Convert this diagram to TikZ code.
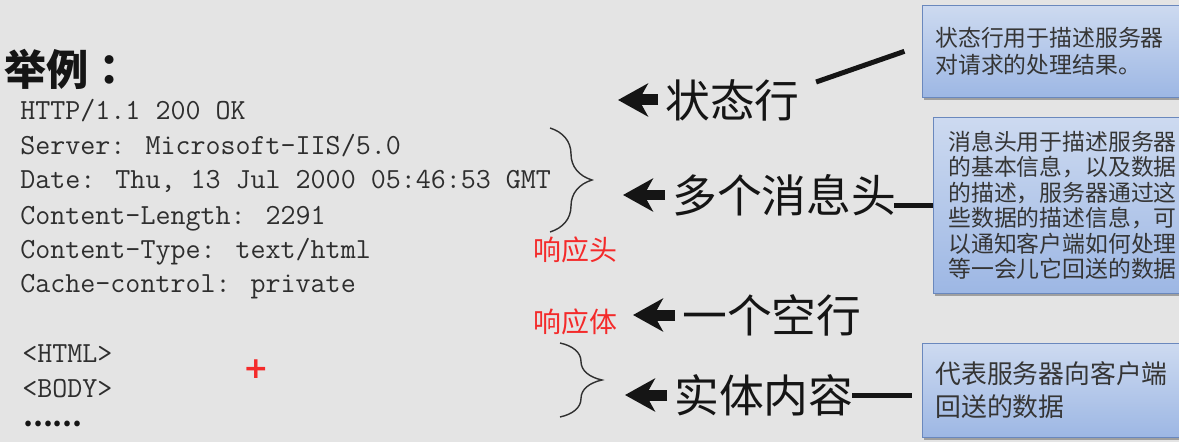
\documentclass[tikz,border=0pt]{standalone}
\usepackage{fontspec}
\newfontfamily\cjk{Noto Sans CJK SC}
\newfontfamily\cjktitle{Noto Sans CJK TC}
\newfontfamily\plusfont{DejaVu Sans}
\usetikzlibrary{arrows.meta,decorations.pathreplacing,shadows}
\definecolor{bggray}{HTML}{E4E4E4}
\definecolor{codegray}{HTML}{2E2E2E}
\definecolor{labelblack}{HTML}{151515}
\definecolor{markred}{HTML}{F42A2A}
\definecolor{boxtop}{HTML}{CDDAF0}
\definecolor{boxbottom}{HTML}{9DB7E4}
\definecolor{boxborder}{HTML}{6A88BD}
\definecolor{boxtext}{HTML}{353535}
\definecolor{bracegray}{HTML}{303030}

\begin{document}
\begin{tikzpicture}[x=0.02cm,y=-0.02cm]
\tikzstyle codeline=[anchor=base west,inner sep=0,text=codegray,font=\ttfamily\fontsize{16.6}{20}\selectfont]
\tikzstyle partlabel=[anchor=west,inner xsep=0.14cm,inner ysep=0,text=labelblack,font=\cjk\fontsize{25.5}{30}\selectfont]
\tikzstyle redlabel=[anchor=west,inner sep=0,text=markred,font=\cjk\fontsize{15.9}{19}\selectfont]
\tikzstyle notebox=[anchor=north west,draw=boxborder,thin,top color=boxtop,bottom color=boxbottom,drop shadow={shadow xshift=0.03cm,shadow yshift=-0.06cm,opacity=0.45,fill=black!70},align=left,text=boxtext,inner xsep=0.26cm]
\tikzstyle bigarrow=[line width=0.22cm,-{Stealth[length=0.6cm,width=0.66cm,inset=0.18cm]},color=labelblack]
\tikzstyle linkline=[line width=0.1cm,color=labelblack]
\tikzstyle curly=[decorate,decoration={brace,amplitude=0.84cm},thick,color=bracegray]

\clip (0,0) rectangle (1179,442);
\fill[bggray] (0,0) rectangle (1179,442);

% example response
\node[anchor=west,inner sep=0,text=labelblack,font=\cjktitle\bfseries\fontsize{24}{28}\selectfont] (title) at (4,69) {举例：};
\node[codeline] (status) at (20,120) {HTTP/1.1 200 OK};
\node[codeline] (server) at (20,155) {Server: Microsoft-IIS/5.0};
\node[codeline] (date) at (20,189) {Date: Thu, 13 Jul 2000 05:46:53 GMT};
\node[codeline] (length) at (20,224) {Content-Length: 2291};
\node[codeline] (type) at (20,258) {Content-Type: text/html};
\node[codeline] (cache) at (20,292) {Cache-control: private};
\node[codeline] (html) at (22,362) {<HTML>};
\node[codeline] (body) at (22,397) {<BODY>};
\node[anchor=west,inner sep=0,text=labelblack,font=\cjk\bfseries\fontsize{15}{18}\selectfont] (dots) at (23,424) {……};

\draw[curly] (550,128) -- (550,232);
\draw[curly] (560,343) -- (560,417);

\node[redlabel] (headword) at (533,250) {响应头};
\node[redlabel] (bodyword) at (533,322) {响应体};
\node[text=markred,inner sep=0,font=\plusfont\bfseries\fontsize{17}{17}\selectfont] (cursor) at (256,369) {+};

% parts and arrows
\node[partlabel] (st) at (658,100) {状态行};
\node[partlabel] (hd) at (665,195) {多个消息头};
\node[partlabel] (kh) at (675,315) {一个空行};
\node[partlabel] (bd) at (667,395) {实体内容};
\coordinate (stTip) at (618,100);
\coordinate (hdTip) at (623,195);
\coordinate (khTip) at (633,315);
\coordinate (bdTip) at (625,395);
\draw[bigarrow] (st.west) -- (stTip);
\draw[bigarrow] (hd.west) -- (hdTip);
\draw[bigarrow] (kh.west) -- (khTip);
\draw[bigarrow] (bd.west) -- (bdTip);

% notes
\node[notebox,minimum height=1.84cm,text width=4.94cm,font=\cjk\fontsize{13}{15.3}\selectfont] (box1) at (922,5) {状态行用于描述服务器\\对请求的处理结果。};
\node[notebox,minimum height=3.52cm,text width=4.64cm,inner xsep=0.3cm,font=\cjk\fontsize{13}{14.5}\selectfont] (box2) at (933,117) {消息头用于描述服务器\\的基本信息，以及数据\\的描述，服务器通过这\\些数据的描述信息，可\\以通知客户端如何处理\\等一会儿它回送的数据};
\node[notebox,minimum height=1.88cm,text width=4.94cm,font=\cjk\fontsize{14.7}{18.7}\selectfont] (box3) at (922,343) {代表服务器向客户端\\回送的数据};

\draw[linkline] ([shift={(9,-18)}]st.east) -- ([xshift=-10]box1.west);
\draw[linkline,shorten >=-0.2cm] (box2.west) -- (box2.west -| hd.east);
\draw[linkline,shorten >=0.2cm] ([xshift=-5]bd.east) -- (bd.east -| box3.west);
\end{tikzpicture}
\end{document}
